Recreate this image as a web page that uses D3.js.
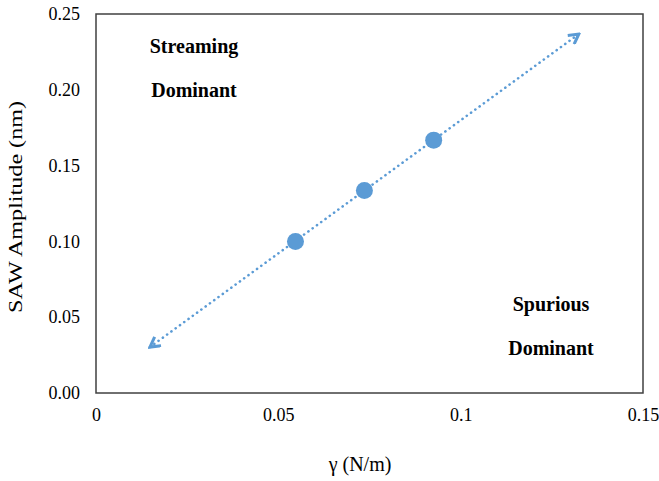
<!DOCTYPE html>
<html>
<head>
<meta charset="utf-8">
<script src="https://cdn.jsdelivr.net/npm/d3@7"></script>
<style>
  body { margin: 0; background: #fff; }
  svg text { font-family: "Liberation Serif", "Times New Roman", Times, serif; }
</style>
</head>
<body>
<div id="chart"></div>
<script>
// data
var gammaValues = [0.0547, 0.0736, 0.0926];
var amplitudeValues = [0.1, 0.1335, 0.1668];
var trendGamma = [0.0148, 0.1324];
var trendAmplitude = [0.0303, 0.2368];
var xTicks = [0, 0.05, 0.1, 0.15];
var xTickLabels = ["0", "0.05", "0.1", "0.15"];
var yTicks = [0, 0.05, 0.1, 0.15, 0.2, 0.25];
var yTickLabels = ["0.00", "0.05", "0.10", "0.15", "0.20", "0.25"];

var width = 659;
var height = 481;
var margin = { top: 14, right: 16, bottom: 88, left: 96 };
var color = "#5B9BD5";

var svg = d3.select("#chart").append("svg")
  .attr("width", width)
  .attr("height", height);

var x = d3.scaleLinear().domain([0, 0.15]).range([margin.left, width - margin.right]);
var y = d3.scaleLinear().domain([0, 0.25]).range([height - margin.bottom, margin.top]);

// frame
svg.append("rect")
  .attr("x", x(0))
  .attr("y", y(0.25))
  .attr("width", x(0.15) - x(0))
  .attr("height", y(0) - y(0.25))
  .attr("fill", "none")
  .attr("stroke", "#404040")
  .attr("stroke-width", 1.5);

// axes, labels only (no tick marks in the original)
var xAxis = d3.axisBottom(x).tickValues(xTicks).tickSize(0).tickPadding(15)
  .tickFormat(function (d, i) { return xTickLabels[i]; });
var gx = svg.append("g").attr("transform", "translate(0," + y(0) + ")").call(xAxis);
gx.select(".domain").remove();
gx.attr("font-family", null).attr("font-size", 18);
gx.selectAll("text").attr("fill", "#000");

var yAxis = d3.axisLeft(y).tickValues(yTicks).tickSize(0).tickPadding(16)
  .tickFormat(function (d, i) { return yTickLabels[i]; });
var gy = svg.append("g").attr("transform", "translate(" + x(0) + ",0)").call(yAxis);
gy.select(".domain").remove();
gy.attr("font-family", null).attr("font-size", 18);
gy.selectAll("text").attr("fill", "#000");

// axis titles
svg.append("text")
  .attr("x", 360)
  .attr("y", 471)
  .attr("text-anchor", "middle")
  .attr("font-size", 20)
  .text("γ (N/m)");

svg.append("text")
  .attr("transform", "translate(22,207) rotate(-90)")
  .attr("text-anchor", "middle")
  .attr("font-size", 19)
  .attr("textLength", 212)
  .attr("lengthAdjust", "spacingAndGlyphs")
  .text("SAW Amplitude (nm)");

// arrow heads
var defs = svg.append("defs");
defs.append("marker")
  .attr("id", "arrow")
  .attr("viewBox", "0 0 12 12")
  .attr("refX", 10)
  .attr("refY", 6)
  .attr("markerWidth", 13)
  .attr("markerHeight", 13)
  .attr("markerUnits", "userSpaceOnUse")
  .attr("orient", "auto-start-reverse")
  .append("path")
  .attr("d", "M1,1 L10,6 L1,11")
  .attr("fill", "none")
  .attr("stroke", color)
  .attr("stroke-width", 2.8)
  .attr("stroke-linejoin", "miter");

// dotted trend line, arrows at both ends
var trend = trendGamma.map(function (g, i) { return [g, trendAmplitude[i]]; });
svg.append("path")
  .datum(trend)
  .attr("d", d3.line().x(function (d) { return x(d[0]); }).y(function (d) { return y(d[1]); }))
  .attr("fill", "none")
  .attr("stroke", color)
  .attr("stroke-width", 2.6)
  .attr("stroke-dasharray", "0.1 5.2")
  .attr("stroke-linecap", "round")
  .attr("marker-start", "url(#arrow)")
  .attr("marker-end", "url(#arrow)");

// data points
svg.selectAll(".pt")
  .data(gammaValues)
  .enter()
  .append("circle")
  .attr("class", "pt")
  .attr("cx", function (d) { return x(d); })
  .attr("cy", function (d, i) { return y(amplitudeValues[i]); })
  .attr("r", 8.5)
  .attr("fill", color);

// region labels
function label(lines, cx, cy) {
  lines.forEach(function (t, i) {
    svg.append("text")
      .attr("x", cx)
      .attr("y", cy + i * 44)
      .attr("text-anchor", "middle")
      .attr("font-size", 20)
      .attr("font-weight", "bold")
      .text(t);
  });
}
label(["Streaming", "Dominant"], 194, 53);
label(["Spurious", "Dominant"], 551, 311);
</script>
</body>
</html>
